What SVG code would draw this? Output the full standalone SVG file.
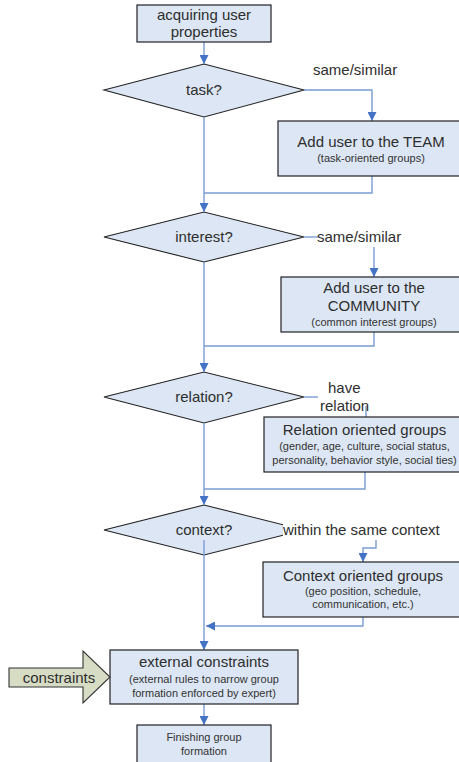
<svg xmlns="http://www.w3.org/2000/svg" width="459" height="762" viewBox="0 0 459 762">
  <style>
    .box { fill: #dce6f4; stroke: #222; stroke-width: 1.2; }
    .dia { fill: #dce6f4; stroke: #222; stroke-width: 1.1; }
    .wire { fill: none; stroke: #7a9cd2; stroke-width: 1.4; }
    .t15 { font-family: "Liberation Sans", Arial, sans-serif; font-size: 15px; fill: #2e2e2e; text-anchor: middle; }
    .t11 { font-family: "Liberation Sans", Arial, sans-serif; font-size: 11px; fill: #333; text-anchor: middle; }
    .lbl { font-family: "Liberation Sans", Arial, sans-serif; font-size: 15px; fill: #2e2e2e; }
  </style>
  <defs>
    <marker id="ah" viewBox="0 0 10 10" refX="10" refY="5" markerWidth="9" markerHeight="9" markerUnits="userSpaceOnUse" orient="auto">
      <path d="M0,0 L10,5 L0,10 Z" fill="#4472c4"/>
    </marker>
  </defs>

  <rect width="459" height="762" fill="#fff"/>

  <!-- decision diamonds (drawn under the connectors) -->
  <g id="task">
    <polygon class="dia" points="104,90 204,64 304,90 204,117"/>
    <text class="t15" x="204" y="95">task?</text>
  </g>
  <g id="interest">
    <polygon class="dia" points="104,237 204,212 304,237 204,262"/>
    <text class="t15" x="204" y="242">interest?</text>
  </g>
  <g id="relation">
    <polygon class="dia" points="104,397 204,372 304,397 204,423"/>
    <text class="t15" x="204" y="402">relation?</text>
  </g>
  <g id="context">
    <polygon class="dia" points="104,530 204,505 304,530 204,555"/>
    <text class="t15" x="204" y="535">context?</text>
  </g>

  <!-- connectors -->
  <g id="connectors">
    <path class="wire" d="M204,42 V64" marker-end="url(#ah)"/>
    <path class="wire" d="M304,90 H372 V121" marker-end="url(#ah)"/>
    <path class="wire" d="M372,176 V193 H204"/>
    <path class="wire" d="M204,117 V212" marker-end="url(#ah)"/>
    <path class="wire" d="M304,237 H318"/>
    <path class="wire" d="M374,247 V277" marker-end="url(#ah)"/>
    <path class="wire" d="M374,332 V346 H204"/>
    <path class="wire" d="M204,262 V372" marker-end="url(#ah)"/>
    <path class="wire" d="M304,397 H318"/>
    <path class="wire" d="M366,406 V417"/>
    <path class="wire" d="M365,472 V489 H204"/>
    <path class="wire" d="M204,423 V505" marker-end="url(#ah)"/>
    <path class="wire" d="M376,540 V548 H363 V562" marker-end="url(#ah)"/>
    <path class="wire" d="M363,617 V626 H206" marker-end="url(#ah)"/>
    <path class="wire" d="M204,540 V650" marker-end="url(#ah)"/>
    <path class="wire" d="M204,704 V725" marker-end="url(#ah)"/>
  </g>

  <!-- branch labels -->
  <g id="labels">
    <text class="lbl" x="313" y="75">same/similar</text>
    <text class="lbl" x="317" y="242">same/similar</text>
    <text class="lbl" x="328" y="393">have</text>
    <text class="lbl" x="320" y="411">relation</text>
    <rect x="283" y="519" width="160" height="19" fill="#fff"/>
    <text class="lbl" x="283" y="535">within the same context</text>
  </g>

  <!-- process boxes -->
  <g id="acquire">
    <rect class="box" x="137" y="5" width="134" height="37"/>
    <text class="t15" x="204" y="20">acquiring user</text>
    <text class="t15" x="204" y="37">properties</text>
  </g>
  <g id="team">
    <rect class="box" x="278" y="121" width="190" height="55"/>
    <text class="t15" x="371" y="147">Add user to the TEAM</text>
    <text class="t11" x="371" y="162">(task-oriented groups)</text>
  </g>
  <g id="community">
    <rect class="box" x="281" y="277" width="190" height="55"/>
    <text class="t15" x="374" y="293">Add user to the</text>
    <text class="t15" x="374" y="311">COMMUNITY</text>
    <text class="t11" x="374" y="326">(common interest groups)</text>
  </g>
  <g id="relation-groups">
    <rect class="box" x="264" y="417" width="205" height="55"/>
    <text class="t15" x="364.5" y="435">Relation oriented groups</text>
    <text class="t11" x="364.5" y="450">(gender, age, culture, social status,</text>
    <text class="t11" x="364.5" y="464">personality, behavior style, social ties)</text>
  </g>
  <g id="context-groups">
    <rect class="box" x="263" y="562" width="205" height="55"/>
    <text class="t15" x="363" y="581">Context oriented groups</text>
    <text class="t11" x="363" y="595">(geo position, schedule,</text>
    <text class="t11" x="363" y="608">communication, etc.)</text>
  </g>
  <g id="external">
    <rect class="box" x="110" y="650" width="188" height="54"/>
    <text class="t15" x="204" y="667">external constraints</text>
    <text class="t11" x="204" y="683">(external rules to narrow group</text>
    <text class="t11" x="204" y="697">formation enforced by expert)</text>
  </g>
  <g id="constraints">
    <polygon points="9,668 83,668 83,651 110,677 83,703 83,687 9,687" fill="#d7dcc4" stroke="#333" stroke-width="1.1"/>
    <text class="t15" x="59" y="683">constraints</text>
  </g>
  <g id="finish">
    <rect class="box" x="137" y="725" width="134" height="50"/>
    <text class="t11" x="204" y="741">Finishing group</text>
    <text class="t11" x="204" y="755">formation</text>
  </g>
</svg>
